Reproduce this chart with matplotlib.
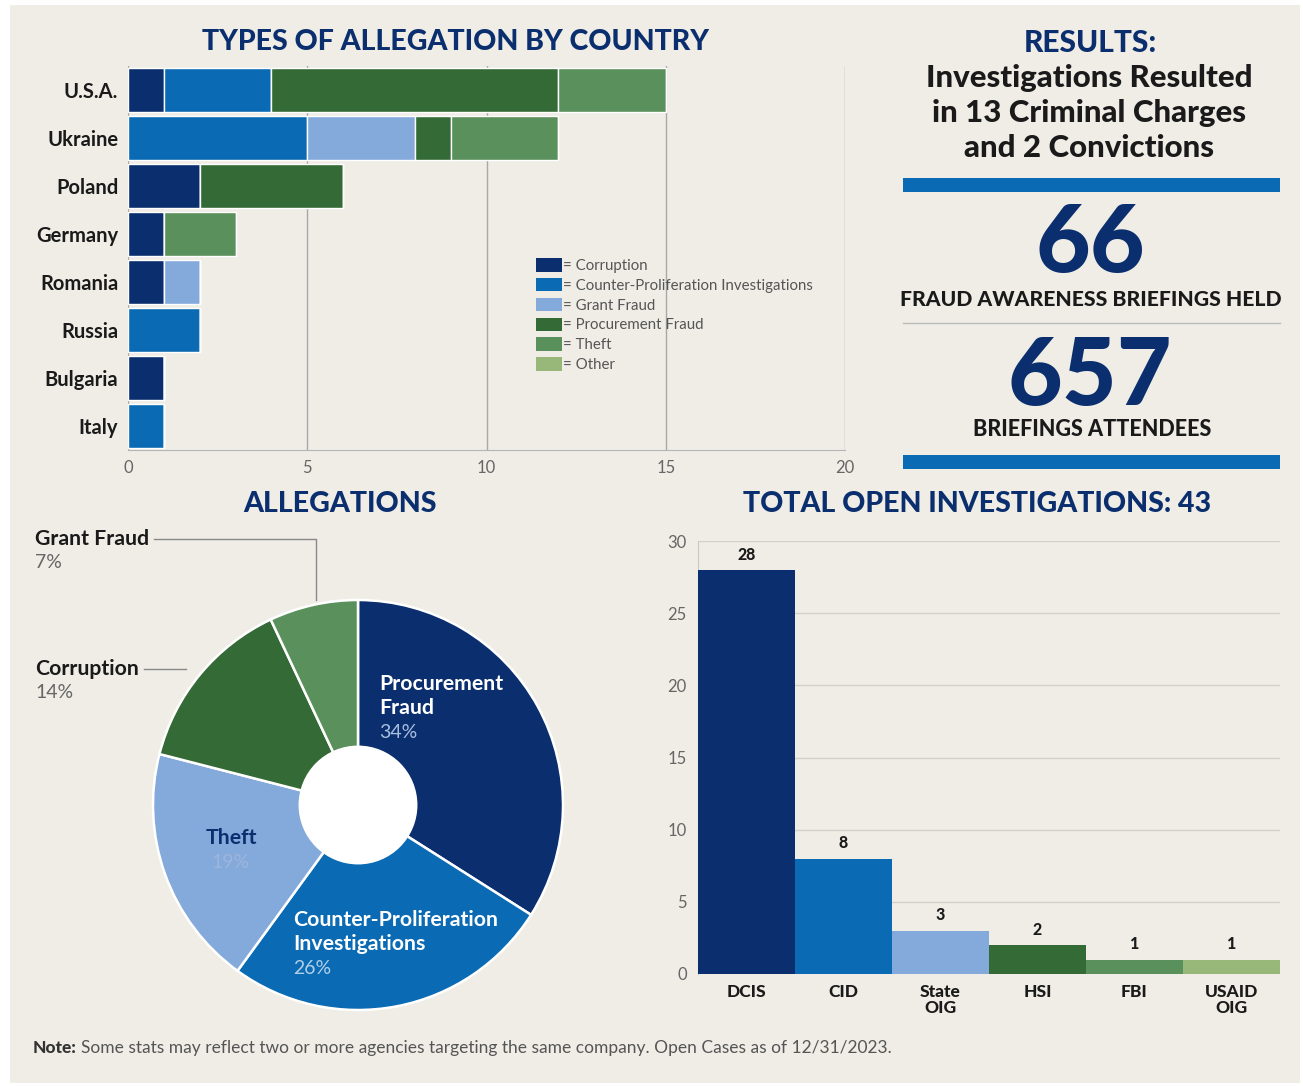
import matplotlib
matplotlib.use('Agg')
import matplotlib.pyplot as plt
from matplotlib.patches import Patch, Rectangle, Circle
from matplotlib.lines import Line2D
import numpy as np

plt.rcParams['font.family'] = ['Lato', 'DejaVu Sans']

W, H = 1303, 1086
BG = '#efede6'
NAVY = '#0b2f6e'
BLUE = '#0a6bb4'
LBLUE = '#84a9db'
DGREEN = '#336a35'
MGREEN = '#5a905b'
LGREEN = '#97b878'
GRAY = '#666666'
INK = '#1a1a1a'

# ── data ──
countries = ['U.S.A.', 'Ukraine', 'Poland', 'Germany', 'Romania', 'Russia', 'Bulgaria', 'Italy']
corruption = [1, 0, 2, 1, 1, 0, 1, 0]
counter_prolif = [3, 5, 0, 0, 0, 2, 0, 1]
grant_fraud = [0, 3, 0, 0, 1, 0, 0, 0]
procurement = [8, 1, 4, 0, 0, 0, 0, 0]
theft = [3, 3, 0, 2, 0, 0, 0, 0]
other = [0, 0, 0, 0, 0, 0, 0, 0]
alleg_types = ['Corruption', 'Counter-Proliferation Investigations', 'Grant Fraud',
               'Procurement Fraud', 'Theft', 'Other']
alleg_colors = [NAVY, BLUE, LBLUE, DGREEN, MGREEN, LGREEN]

pie_labels = ['Procurement Fraud', 'Counter-Proliferation Investigations', 'Theft',
              'Corruption', 'Grant Fraud']
pie_pcts = [34, 26, 19, 14, 7]
pie_colors = [NAVY, BLUE, LBLUE, DGREEN, MGREEN]

agencies = ['DCIS', 'CID', 'State\nOIG', 'HSI', 'FBI', 'USAID\nOIG']
open_cases = [28, 8, 3, 2, 1, 1]
agency_colors = [NAVY, BLUE, LBLUE, DGREEN, MGREEN, LGREEN]

briefings_held = 66
briefing_attendees = 657
charges, convictions = 13, 2


def fx(px):
    return px / W


def fy(py):
    return 1 - py / H


fig = plt.figure(figsize=(W / 100, H / 100), dpi=100, facecolor='white')
fig.patches.append(Rectangle((fx(10), fy(1083)), fx(1290), 1078 / H,
                             transform=fig.transFigure, facecolor=BG,
                             edgecolor='none', zorder=-10))

TITLE = dict(fontsize=20.5, fontweight='black', color=NAVY, ha='center', va='center')

# ── (a) Types of allegation by country ──
ax = fig.add_axes([fx(128), fy(450), fx(845) - fx(128), fy(66) - fy(450)])
ax.set_facecolor('none')
y = np.arange(len(countries))
left = np.zeros(len(countries))
series = [corruption, counter_prolif, grant_fraud, procurement, theft, other]
for vals, c in zip(series, alleg_colors):
    vals = np.array(vals, dtype=float)
    ax.barh(y, vals, left=left, height=0.93, color=c, edgecolor='white',
            linewidth=1, zorder=3)
    left += vals
ax.set_xlim(0, 20)
ax.set_ylim(len(countries) - 0.5, -0.5)
ax.set_yticks(y)
ax.set_yticklabels(countries, fontsize=14.5, fontweight='bold', color=INK)
ax.set_xticks([0, 5, 10, 15, 20])
ax.tick_params(axis='x', colors=GRAY, labelsize=12, length=0, pad=7)
ax.tick_params(axis='y', length=0, pad=7)
ax.grid(axis='x', color='#a8a8a8', linewidth=1, zorder=0)
for s in ['top', 'right', 'left']:
    ax.spines[s].set_visible(False)
ax.spines['bottom'].set_color('#b5b5b5')
handles = [Patch(facecolor=c, edgecolor='none') for c in alleg_colors]
ax.legend(handles, ['= ' + t for t in alleg_types], loc='upper left',
          bbox_to_anchor=(0.560, 0.515), frameon=False, fontsize=10.8,
          labelcolor='#555555', handlelength=1.75, handleheight=1.0,
          handletextpad=0.1, labelspacing=0.33, borderaxespad=0)
fig.text(fx(455), fy(42), 'TYPES OF ALLEGATION BY COUNTRY', **TITLE)

# ── (b) Results panel ──
fig.text(fx(1090), fy(43), 'RESULTS:', **dict(TITLE, fontsize=21.5))
res_lines = ['Investigations Resulted', 'in %d Criminal Charges' % charges,
             'and %d Convictions' % convictions]
for i, line in enumerate(res_lines):
    fig.text(fx(1089), fy(78 + 35 * i), line, ha='center', va='center',
             fontsize=22.5, fontweight='black', color=INK)
for top in [178, 455]:
    fig.patches.append(Rectangle((fx(903), fy(top + 14)), fx(1280) - fx(903), 14 / H,
                                 transform=fig.transFigure, facecolor=BLUE,
                                 edgecolor='none'))
fig.lines.append(Line2D([fx(903), fx(1280)], [fy(323), fy(323)],
                        transform=fig.transFigure, color='#bbbbbb', linewidth=1))
fig.text(fx(1090), fy(245), str(briefings_held), ha='center', va='center',
         fontsize=68, fontweight='black', color=NAVY)
fig.text(fx(1091), fy(300), 'FRAUD AWARENESS BRIEFINGS HELD', ha='center', va='center',
         fontsize=15.2, fontweight='black', color=INK)
fig.text(fx(1090), fy(378), str(briefing_attendees), ha='center', va='center',
         fontsize=68, fontweight='black', color=NAVY)
fig.text(fx(1092), fy(430), 'BRIEFINGS ATTENDEES', ha='center', va='center',
         fontsize=15.5, fontweight='black', color=INK)

# ── (c) Allegations donut ──
R = 205
axp = fig.add_axes([fx(358 - R), fy(805 + R), 2 * R / W, 2 * R / H])
axp.set_facecolor('none')
axp.pie(pie_pcts, colors=pie_colors, startangle=90, counterclock=False, radius=1,
        wedgeprops=dict(edgecolor='white', linewidth=1.8))
axp.add_patch(Circle((0, 0), 0.29, facecolor='white', edgecolor='none', zorder=5))
axp.set_xlim(-1, 1)
axp.set_ylim(-1, 1)
axp.set_aspect('equal')


def d(px, py):
    return ((px - 358) / R, (805 - py) / R)


def pie_text(px, py, lines, colors, ha='left'):
    for i, (t, c) in enumerate(zip(lines, colors)):
        is_pct = t.endswith('%')
        axp.text(*d(px, py + 24 * i), t, ha=ha, va='center', color=c,
                 fontsize=15.3 if not is_pct else 14,
                 fontweight='normal' if is_pct else 'bold', clip_on=False, zorder=6)


pie_text(379, 684, ['Procurement', 'Fraud', '%d%%' % pie_pcts[0]],
         ['white', 'white', '#a9bfe0'])
pie_text(293, 920, ['Counter-Proliferation', 'Investigations', '%d%%' % pie_pcts[1]],
         ['white', 'white', '#b3cfe8'])
pie_text(231, 838, ['Theft', '%d%%' % pie_pcts[2]], [NAVY, '#9db6dc'], ha='center')
pie_text(35, 669, ['Corruption', '%d%%' % pie_pcts[3]], [INK, GRAY])
pie_text(35, 539, ['Grant Fraud', '%d%%' % pie_pcts[4]], [INK, GRAY])
gx = [d(154, 539)[0], d(316, 539)[0], d(316, 600)[0]]
gy = [d(154, 539)[1], d(316, 539)[1], d(316, 600)[1]]
axp.plot(gx, gy, color='#888888', linewidth=1, clip_on=False)
cx = [d(144, 669)[0], d(186, 669)[0]]
cy = [d(144, 669)[1], d(186, 669)[1]]
axp.plot(cx, cy, color='#888888', linewidth=1, clip_on=False)
fig.text(fx(340), fy(504), 'ALLEGATIONS', **TITLE)

# ── (d) Total open investigations ──
axb = fig.add_axes([fx(698), fy(974), fx(1280) - fx(698), fy(541) - fy(974)])
axb.set_facecolor('none')
xb = np.arange(len(agencies))
bars = axb.bar(xb, open_cases, width=1.0, color=agency_colors, edgecolor='none', zorder=3)
for b, v in zip(bars, open_cases):
    axb.text(b.get_x() + b.get_width() / 2, v + 0.5, str(v), ha='center', va='bottom',
             fontsize=11.5, fontweight='black', color=INK)
axb.set_xlim(-0.5, len(agencies) - 0.5)
axb.set_ylim(0, 30)
axb.set_yticks(range(0, 31, 5))
axb.set_xticks(xb)
axb.set_xticklabels(agencies, fontsize=12.5, fontweight='black', color=INK,
                    linespacing=1.05)
axb.tick_params(axis='y', colors=GRAY, labelsize=12, length=0, pad=8)
axb.tick_params(axis='x', length=0, pad=7)
axb.grid(axis='y', color='#d2d0c8', linewidth=1, zorder=0)
for s in ['top', 'right', 'bottom']:
    axb.spines[s].set_visible(False)
axb.spines['left'].set_color('#c8c8c8')
fig.text(fx(977), fy(504), 'TOTAL OPEN INVESTIGATIONS: %d' % sum(open_cases), **TITLE)

# ── note ──
note = fig.text(fx(33), fy(1048), 'Note:', ha='left', va='center', fontsize=12.5,
                fontweight='black', color='#333333')
fig.canvas.draw()
bb = note.get_window_extent().transformed(fig.transFigure.inverted())
fig.text(bb.x1 + fx(4), fy(1048), 'Some stats may reflect two or more agencies targeting '
         'the same company. Open Cases as of 12/31/2023.', ha='left', va='center',
         fontsize=12.5, color='#555555')

plt.savefig('out.png', dpi=100, facecolor='white')
plt.close()
